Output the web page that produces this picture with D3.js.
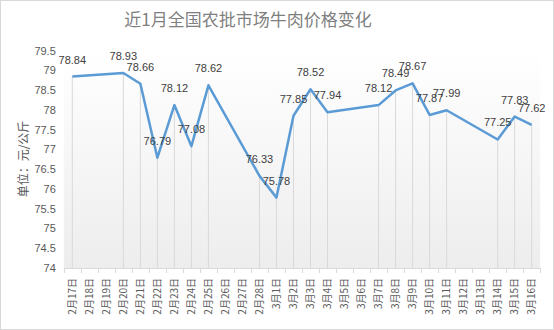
<!DOCTYPE html>
<html>
<head>
<meta charset="utf-8">
<script src="https://cdn.jsdelivr.net/npm/d3@7"></script>
<style>
  html, body { margin: 0; padding: 0; background: #fff; }
  svg { display: block; }
</style>
</head>
<body>
<svg id="chart" width="554" height="330"></svg>
<script>
// Daily wholesale beef price (元/公斤), 2月17日 – 3月16日; null = no quote that day
const dates = ["2月17日","2月18日","2月19日","2月20日","2月21日","2月22日","2月23日","2月24日","2月25日","2月26日","2月27日","2月28日",
  "3月1日","3月2日","3月3日","3月4日","3月5日","3月6日","3月7日","3月8日","3月9日","3月10日","3月11日","3月12日","3月13日","3月14日","3月15日","3月16日"];
const prices = [78.84, null, null, 78.93, 78.66, 76.79, 78.12, 77.08, 78.62, null, null, 76.33,
  75.78, 77.85, 78.52, 77.94, null, null, 78.12, 78.49, 78.67, 77.87, 77.99, null, null, 77.25, 77.83, 77.62];
const yTicks = [74, 74.5, 75, 75.5, 76, 76.5, 77, 77.5, 78, 78.5, 79, 79.5];

const titleText = "近1月全国农批市场牛肉价格变化";
const yTitle = "单位：元/公斤";

const svg = d3.select("#chart");
const W = 554, H = 330;
const plot = { left: 63.8, right: 540.2, top: 50.5, bottom: 268 };

// outer frame
svg.append("rect")
  .attr("x", 0.5).attr("y", 0.5).attr("width", W - 1).attr("height", H - 1)
  .attr("fill", "#fff").attr("stroke", "#d9d9d9");

// plot background gradient
const defs = svg.append("defs");
const grad = defs.append("linearGradient").attr("id", "plotBg")
  .attr("x1", 0).attr("y1", 0).attr("x2", 0).attr("y2", 1);
grad.append("stop").attr("offset", "0%").attr("stop-color", "#ffffff");
grad.append("stop").attr("offset", "100%").attr("stop-color", "#ededed");
svg.append("rect")
  .attr("x", plot.left).attr("y", plot.top)
  .attr("width", plot.right - plot.left).attr("height", plot.bottom - plot.top)
  .attr("fill", "url(#plotBg)");

const x = d3.scaleBand().domain(dates).range([plot.left, plot.right]).padding(0);
const cx = d => x(d) + x.bandwidth() / 2;
const y = d3.scaleLinear().domain([74, 79.5]).range([plot.bottom, plot.top]);

const series = dates.map((d, i) => ({ date: d, v: prices[i] })).filter(p => p.v != null);

// drop lines from each point to the axis
svg.append("g").selectAll("line").data(series).join("line")
  .attr("x1", d => cx(d.date)).attr("x2", d => cx(d.date))
  .attr("y1", d => y(d.v)).attr("y2", plot.bottom)
  .attr("stroke", "#d9d9d9").attr("stroke-width", 1);

// y axis (labels only)
const yAxis = svg.append("g")
  .attr("transform", `translate(${plot.left - 8},0)`)
  .call(d3.axisLeft(y).tickValues(yTicks).tickSize(0).tickPadding(0).tickFormat(d3.format("")));
yAxis.select(".domain").remove();
yAxis.selectAll("text")
  .attr("fill", "#595959")
  .style("font-family", "'Liberation Sans', Arial, sans-serif")
  .style("font-size", "11px");

// x axis with ticks between categories
const xAxisG = svg.append("g").attr("transform", `translate(0,${plot.bottom})`);
xAxisG.append("line")
  .attr("x1", plot.left).attr("x2", plot.right).attr("y1", 0.5).attr("y2", 0.5)
  .attr("stroke", "#d9d9d9");
const bounds = dates.map(d => x(d)).concat([plot.right]);
xAxisG.selectAll("line.tick").data(bounds).join("line")
  .attr("class", "tick")
  .attr("x1", d => Math.round(d) + 0.5).attr("x2", d => Math.round(d) + 0.5)
  .attr("y1", 0).attr("y2", 5)
  .attr("stroke", "#d9d9d9");
xAxisG.selectAll("text").data(dates).join("text")
  .attr("transform", d => `translate(${cx(d) + 3.5},10) rotate(-90)`)
  .attr("text-anchor", "end")
  .attr("fill", "#595959")
  .style("font-family", "'Noto Sans CJK SC', sans-serif")
  .style("font-size", "10px")
  .text(d => d);

// price line
const line = d3.line().x(d => cx(d.date)).y(d => y(d.v));
svg.append("path").datum(series)
  .attr("d", line)
  .attr("fill", "none")
  .attr("stroke", "#5b9bd5")
  .attr("stroke-width", 2.5)
  .attr("stroke-linejoin", "round");

// value labels above each point
svg.append("g").selectAll("text").data(series).join("text")
  .attr("x", d => cx(d.date))
  .attr("y", d => y(d.v) - 13)
  .attr("text-anchor", "middle")
  .attr("fill", "#404040")
  .style("font-family", "'Liberation Sans', Arial, sans-serif")
  .style("font-size", "11px")
  .text(d => d.v.toFixed(2));

// title
svg.append("text")
  .attr("x", 248).attr("y", 26)
  .attr("text-anchor", "middle")
  .attr("fill", "#7f7f7f")
  .style("font-family", "'Noto Sans CJK SC', sans-serif")
  .style("font-size", "17px")
  .text(titleText);

// y axis title
svg.append("text")
  .attr("transform", "translate(28,159) rotate(-90)")
  .attr("text-anchor", "middle")
  .attr("fill", "#595959")
  .style("font-family", "'Noto Sans CJK SC', sans-serif")
  .style("font-size", "12px")
  .text(yTitle);
</script>
</body>
</html>
